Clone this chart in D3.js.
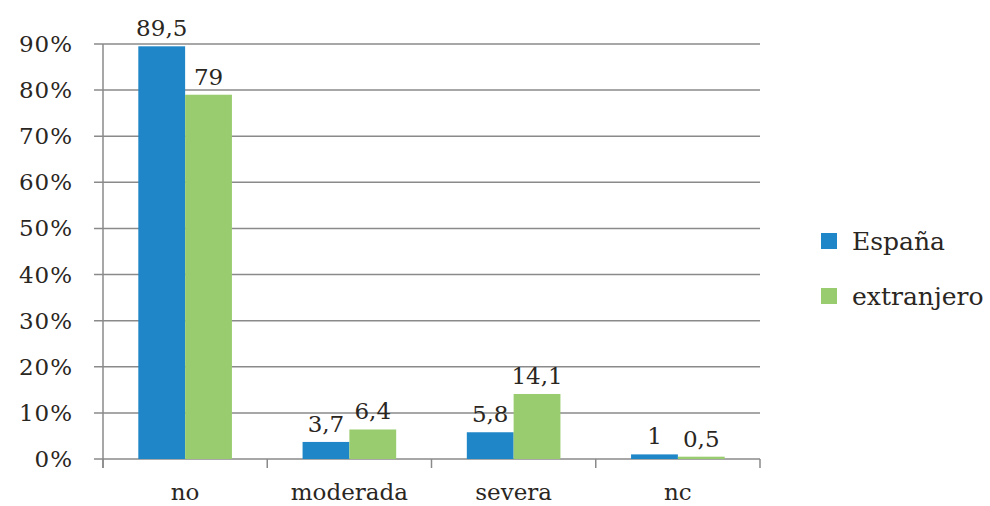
<!DOCTYPE html>
<meta charset="utf-8">
<style>
  body { margin: 0; background: #fff; }
  text { font-family: "DejaVu Serif", "Liberation Serif", serif; fill: #2a2622; }
</style>
<body>
<svg width="990" height="506"></svg>
<script src="https://d3js.org/d3.v7.min.js"></script>
<script>
// data
var categories = ["no", "moderada", "severa", "nc"];
var series = ["España", "extranjero"];
var espana = [89.5, 3.7, 5.8, 1];
var extranjero = [79, 6.4, 14.1, 0.5];
var yTicks = [0, 10, 20, 30, 40, 50, 60, 70, 80, 90];

var colors = ["#1f86c8", "#99cc6e"];

var margin = {top: 44, left: 103},
    width = 657,
    height = 415;

var svg = d3.select("svg");
var g = svg.append("g")
  .attr("transform", "translate(" + margin.left + "," + margin.top + ")");

var x = d3.scaleBand()
  .domain(categories)
  .range([0, width])
  .paddingInner(0.43)
  .paddingOuter(0.215);

var x1 = d3.scaleBand()
  .domain(series)
  .range([0, x.bandwidth()]);

var y = d3.scaleLinear()
  .domain([0, 90])
  .range([height, 0]);

// gridlines
g.selectAll(".grid")
  .data(yTicks)
  .enter().append("line")
    .attr("x1", -9)
    .attr("x2", width)
    .attr("y1", d => y(d))
    .attr("y2", d => y(d))
    .attr("stroke", "#8a8a8a")
    .attr("stroke-width", 1.5);

// y axis line
g.append("line")
  .attr("x1", 0).attr("x2", 0)
  .attr("y1", 0).attr("y2", height + 9)
  .attr("stroke", "#8a8a8a")
  .attr("stroke-width", 1.5);

// x tick marks between categories
var bounds = [0].concat(categories.map(c => x(c) + x.bandwidth() + x.step() * 0.215));
g.selectAll(".xtick")
  .data(bounds)
  .enter().append("line")
    .attr("x1", d => d).attr("x2", d => d)
    .attr("y1", height).attr("y2", height + 9)
    .attr("stroke", "#8a8a8a")
    .attr("stroke-width", 1.5);

// y labels
g.selectAll(".ylab")
  .data(yTicks)
  .enter().append("text")
    .attr("x", -30)
    .attr("y", d => y(d) + 8)
    .attr("text-anchor", "end")
    .style("font-size", "23px")
    .style("letter-spacing", "1px")
    .text(d => d + "%");

// bars
var rows = categories.map((c, i) => ({cat: c, vals: [espana[i], extranjero[i]]}));

var grp = g.selectAll(".grp")
  .data(rows)
  .enter().append("g")
    .attr("transform", d => "translate(" + x(d.cat) + ",0)");

grp.selectAll("rect")
  .data(d => d.vals.map((v, j) => ({s: series[j], v: v, j: j})))
  .enter().append("rect")
    .attr("x", d => x1(d.s))
    .attr("y", d => y(d.v))
    .attr("width", x1.bandwidth())
    .attr("height", d => height - y(d.v))
    .attr("fill", d => colors[d.j]);

grp.selectAll(".val")
  .data(d => d.vals.map((v, j) => ({s: series[j], v: v})))
  .enter().append("text")
    .attr("x", d => x1(d.s) + x1.bandwidth() / 2)
    .attr("y", d => y(d.v) - 10)
    .attr("text-anchor", "middle")
    .style("font-size", "23px")
    .text(d => String(d.v).replace(".", ","));

// category labels
g.selectAll(".xlab")
  .data(categories)
  .enter().append("text")
    .attr("x", d => x(d) + x.bandwidth() / 2)
    .attr("y", height + 41)
    .attr("text-anchor", "middle")
    .style("font-size", "23px")
    .text(d => d);

// legend
var legend = svg.selectAll(".leg")
  .data(series)
  .enter().append("g")
    .attr("transform", (d, i) => "translate(821," + (233 + i * 55) + ")");

legend.append("rect")
  .attr("width", 16)
  .attr("height", 16)
  .attr("fill", (d, i) => colors[i]);

legend.append("text")
  .attr("x", 31)
  .attr("y", 17)
  .style("font-size", "25px")
  .text(d => d);
</script>
</body>
